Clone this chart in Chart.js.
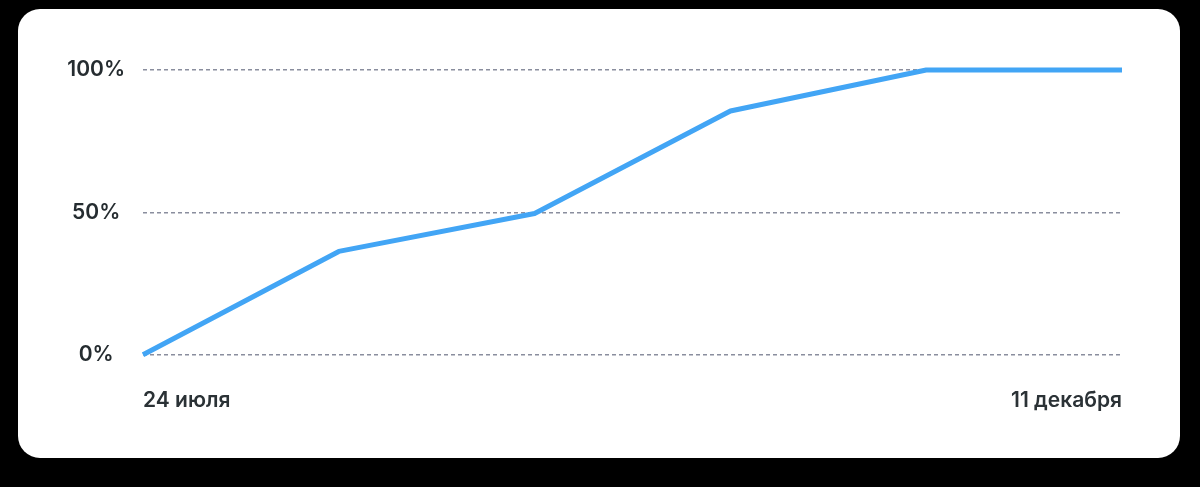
<!DOCTYPE html>
<html>
<head>
<meta charset="utf-8">
<script src="https://cdn.jsdelivr.net/npm/chart.js@4.4.1/dist/chart.umd.min.js"></script>
<style>
  html, body { margin: 0; padding: 0; background: #000; width: 1200px; height: 487px; overflow: hidden; }
  #card { position: absolute; left: 18px; top: 9px; width: 1162px; height: 449px; background: #fff; border-radius: 22px; overflow: hidden; }
  #c { display: block; }
</style>
</head>
<body>
<div id="card"><canvas id="c" width="1162" height="449"></canvas></div>
<script>
const categories = ['24 июля', '21 августа', '18 сентября', '16 октября', '13 ноября', '11 декабря'];
const progressValues = [0, 36.3, 49.6, 85.6, 100, 100];
const yTicks = [0, 50, 100];

const ctx = document.getElementById('c').getContext('2d');
new Chart(ctx, {
  type: 'line',
  data: {
    labels: categories,
    datasets: [{
      data: progressValues,
      borderColor: '#42a5f5',
      borderWidth: 5,
      pointRadius: 0,
      tension: 0,
      fill: false,
      clip: 10,
      borderCapStyle: 'butt',
      borderJoinStyle: 'round'
    }]
  },
  options: {
    responsive: false,
    animation: false,
    layout: { padding: { left: 0, right: 58, top: 61, bottom: 12 } },
    plugins: { legend: { display: false }, tooltip: { enabled: false } },
    scales: {
      x: {
        grid: { display: false, drawTicks: false },
        border: { display: false },
        ticks: {
          autoSkip: false,
          maxRotation: 0,
          align: 'inner',
          padding: 33,
          color: '#2b3236',
          font: { family: 'Inter', size: 21, weight: '600' },
          callback: function(v, i) { return (i === 0 || i === categories.length - 1) ? categories[i] : ''; }
        }
      },
      y: {
        min: 0,
        max: 100,
        afterFit: function(s) { s.width = 125; },
        afterBuildTicks: function(s) { s.ticks = yTicks.map(v => ({ value: v })); },
        grid: { drawTicks: false, color: '#8a8e9e', lineWidth: 1.5 },
        border: { display: false, dash: [4, 3] },
        ticks: {
          crossAlign: 'center',
          padding: 18,
          color: '#252c30',
          font: { family: 'Inter', size: 21, weight: '600' },
          callback: function(v) { return v + '%'; }
        }
      }
    }
  }
});
</script>
</body>
</html>
